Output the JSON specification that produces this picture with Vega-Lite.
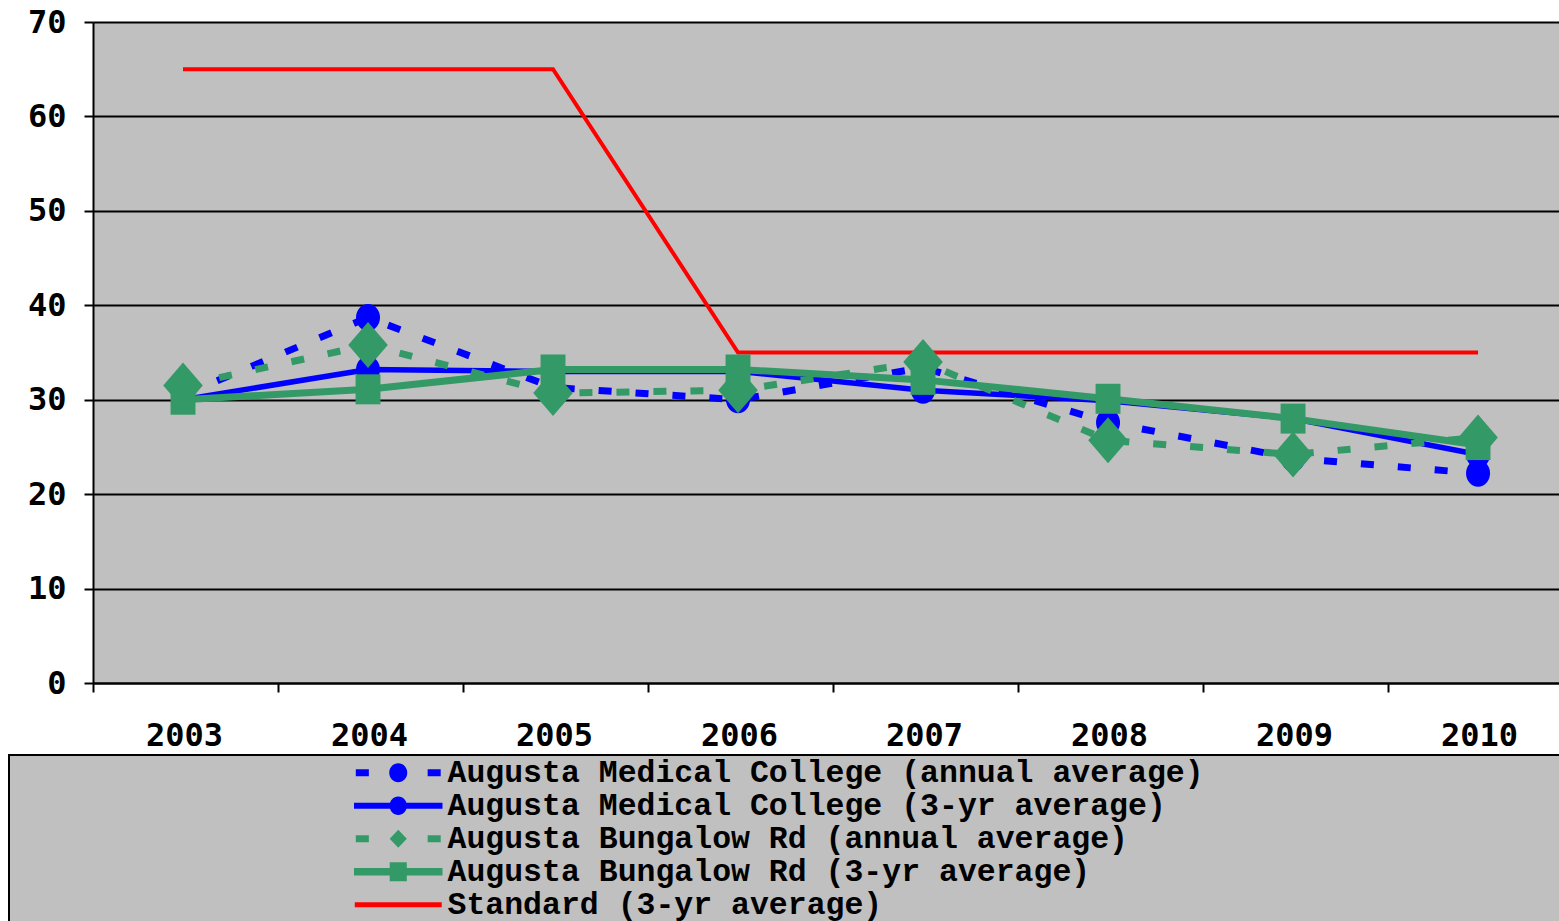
{
  "$schema": "https://vega.github.io/schema/vega-lite/v6.json",
  "background": "white",
  "padding": {"left": 8, "top": 6, "right": 0, "bottom": 0},
  "width": 1467,
  "height": 661,
  "view": {"fill": "#c0c0c0", "stroke": null},
  "datasets": {
    "obs": [
      {"series": "Augusta Medical College (annual average)", "year": 2003, "value": 30.5},
      {"series": "Augusta Medical College (annual average)", "year": 2004, "value": 38.7},
      {"series": "Augusta Medical College (annual average)", "year": 2005, "value": 31.3},
      {"series": "Augusta Medical College (annual average)", "year": 2006, "value": 30.0},
      {"series": "Augusta Medical College (annual average)", "year": 2007, "value": 33.4},
      {"series": "Augusta Medical College (annual average)", "year": 2008, "value": 27.6},
      {"series": "Augusta Medical College (annual average)", "year": 2009, "value": 23.8},
      {"series": "Augusta Medical College (annual average)", "year": 2010, "value": 22.2},
      {"series": "Augusta Medical College (3-yr average)", "year": 2003, "value": 30.0},
      {"series": "Augusta Medical College (3-yr average)", "year": 2004, "value": 33.2},
      {"series": "Augusta Medical College (3-yr average)", "year": 2005, "value": 33.0},
      {"series": "Augusta Medical College (3-yr average)", "year": 2006, "value": 33.0},
      {"series": "Augusta Medical College (3-yr average)", "year": 2007, "value": 31.0},
      {"series": "Augusta Medical College (3-yr average)", "year": 2008, "value": 29.9},
      {"series": "Augusta Medical College (3-yr average)", "year": 2009, "value": 28.0},
      {"series": "Augusta Medical College (3-yr average)", "year": 2010, "value": 24.2},
      {"series": "Augusta Bungalow Rd (annual average)", "year": 2003, "value": 31.5},
      {"series": "Augusta Bungalow Rd (annual average)", "year": 2004, "value": 35.8},
      {"series": "Augusta Bungalow Rd (annual average)", "year": 2005, "value": 30.7},
      {"series": "Augusta Bungalow Rd (annual average)", "year": 2006, "value": 31.0},
      {"series": "Augusta Bungalow Rd (annual average)", "year": 2007, "value": 34.0},
      {"series": "Augusta Bungalow Rd (annual average)", "year": 2008, "value": 25.7},
      {"series": "Augusta Bungalow Rd (annual average)", "year": 2009, "value": 24.2},
      {"series": "Augusta Bungalow Rd (annual average)", "year": 2010, "value": 26.0},
      {"series": "Augusta Bungalow Rd (3-yr average)", "year": 2003, "value": 30.0},
      {"series": "Augusta Bungalow Rd (3-yr average)", "year": 2004, "value": 31.1},
      {"series": "Augusta Bungalow Rd (3-yr average)", "year": 2005, "value": 33.2},
      {"series": "Augusta Bungalow Rd (3-yr average)", "year": 2006, "value": 33.2},
      {"series": "Augusta Bungalow Rd (3-yr average)", "year": 2007, "value": 32.1},
      {"series": "Augusta Bungalow Rd (3-yr average)", "year": 2008, "value": 30.1},
      {"series": "Augusta Bungalow Rd (3-yr average)", "year": 2009, "value": 28.0},
      {"series": "Augusta Bungalow Rd (3-yr average)", "year": 2010, "value": 25.2},
      {"series": "Standard (3-yr average)", "year": 2003, "value": 65},
      {"series": "Standard (3-yr average)", "year": 2004, "value": 65},
      {"series": "Standard (3-yr average)", "year": 2005, "value": 65},
      {"series": "Standard (3-yr average)", "year": 2006, "value": 35},
      {"series": "Standard (3-yr average)", "year": 2007, "value": 35},
      {"series": "Standard (3-yr average)", "year": 2008, "value": 35},
      {"series": "Standard (3-yr average)", "year": 2009, "value": 35},
      {"series": "Standard (3-yr average)", "year": 2010, "value": 35}
    ],
    "keys": [
      {"series": "Augusta Medical College (annual average)"},
      {"series": "Augusta Medical College (3-yr average)"},
      {"series": "Augusta Bungalow Rd (annual average)"},
      {"series": "Augusta Bungalow Rd (3-yr average)"},
      {"series": "Standard (3-yr average)"}
    ]
  },
  "layer": [
    {
      "data": {"name": "obs"},
      "encoding": {
        "x": {
          "field": "year", "type": "quantitative",
          "scale": {"domain": [2002.5135, 2010.443], "nice": false, "zero": false},
          "axis": {
            "values": [2002.5135, 2003.5135, 2004.5135, 2005.5135, 2006.5135, 2007.5135, 2008.5135, 2009.5135],
            "labelExpr": "format(round(datum.value), 'd')",
            "labelOffset": 91,
            "title": null, "grid": false,
            "tickSize": 9, "tickWidth": 2, "tickColor": "black",
            "domainColor": "black", "domainWidth": 2,
            "labelFont": "DejaVu Sans Mono", "labelFontWeight": "bold", "labelFontSize": 32,
            "labelColor": "black", "labelPadding": 28,
            "labelOverlap": false, "labelFlush": false, "labelBound": false
          }
        },
        "y": {
          "field": "value", "type": "quantitative",
          "scale": {"domain": [0, 70], "nice": false, "zero": true},
          "axis": {
            "values": [0, 10, 20, 30, 40, 50, 60, 70],
            "title": null,
            "grid": true, "gridColor": "black", "gridWidth": 2, "gridOpacity": 1,
            "tickSize": 9, "tickWidth": 2, "tickColor": "black",
            "domainColor": "black", "domainWidth": 2,
            "labelFont": "DejaVu Sans Mono", "labelFontWeight": "bold", "labelFontSize": 32,
            "labelColor": "black", "labelPadding": 18, "labelFlush": false, "labelOverlap": false
          }
        }
      },
      "layer": [
        {
          "transform": [{"filter": "datum.series === 'Standard (3-yr average)'"}],
          "mark": {"type": "line", "color": "#ff0000", "strokeWidth": 4}
        },
        {
          "transform": [{"filter": "datum.series === 'Augusta Medical College (annual average)'"}],
          "mark": {"type": "line", "color": "#0000ff", "strokeWidth": 7, "strokeDash": [13, 24], "strokeCap": "butt"}
        },
        {
          "transform": [{"filter": "datum.series === 'Augusta Medical College (annual average)'"}],
          "mark": {"type": "point", "filled": true, "opacity": 1, "color": "#0000ff", "size": 729, "shape": "M-0.89,0A0.89,1 0 1,1 0.89,0A0.89,1 0 1,1 -0.89,0Z"}
        },
        {
          "transform": [{"filter": "datum.series === 'Augusta Medical College (3-yr average)'"}],
          "mark": {"type": "line", "color": "#0000ff", "strokeWidth": 5.5}
        },
        {
          "transform": [{"filter": "datum.series === 'Augusta Medical College (3-yr average)'"}],
          "mark": {"type": "point", "filled": true, "opacity": 1, "color": "#0000ff", "size": 729, "shape": "M-0.89,0A0.89,1 0 1,1 0.89,0A0.89,1 0 1,1 -0.89,0Z"}
        },
        {
          "transform": [{"filter": "datum.series === 'Augusta Bungalow Rd (annual average)'"}],
          "mark": {"type": "line", "color": "#339966", "strokeWidth": 7, "strokeDash": [13, 24], "strokeCap": "butt"}
        },
        {
          "transform": [{"filter": "datum.series === 'Augusta Bungalow Rd (annual average)'"}],
          "mark": {"type": "point", "filled": true, "opacity": 1, "color": "#339966", "size": 2116, "shape": "M0,-1L0.86,0L0,1L-0.86,0Z"}
        },
        {
          "transform": [{"filter": "datum.series === 'Augusta Bungalow Rd (3-yr average)'"}],
          "mark": {"type": "line", "color": "#339966", "strokeWidth": 7}
        },
        {
          "transform": [{"filter": "datum.series === 'Augusta Bungalow Rd (3-yr average)'"}],
          "mark": {"type": "point", "filled": true, "opacity": 1, "color": "#339966", "size": 900, "shape": "M-0.83,-1L0.83,-1L0.83,1L-0.83,1Z"}
        }
      ]
    },
    {
      "data": {"name": "keys"},
      "mark": {"type": "point", "filled": true, "opacity": 0},
      "encoding": {
        "shape": {
          "field": "series", "type": "nominal",
          "scale": {
            "domain": ["Augusta Medical College (annual average)", "Augusta Medical College (3-yr average)", "Augusta Bungalow Rd (annual average)", "Augusta Bungalow Rd (3-yr average)", "Standard (3-yr average)"],
            "range": [
              "M-2.83,-0.23L-1.96,-0.23L-1.96,0.23L-2.83,0.23Z M1.96,-0.23L2.83,-0.23L2.83,0.23L1.96,0.23Z M-0.6,0A0.6,0.63 0 1,1 0.6,0A0.6,0.63 0 1,1 -0.6,0Z",
              "M-2.95,-0.2L2.95,-0.2L2.95,0.2L-2.95,0.2Z M-0.58,0A0.58,0.62 0 1,1 0.58,0A0.58,0.62 0 1,1 -0.58,0Z",
              "M-2.83,-0.23L-1.96,-0.23L-1.96,0.23L-2.83,0.23Z M1.96,-0.23L2.83,-0.23L2.83,0.23L1.96,0.23Z M0,-0.6L0.57,0L0,0.6L-0.57,0Z",
              "M-2.95,-0.25L2.95,-0.25L2.95,0.25L-2.95,0.25Z M-0.57,-0.63L0.57,-0.63L0.57,0.63L-0.57,0.63Z",
              "M-2.9,-0.17L2.9,-0.17L2.9,0.17L-2.9,0.17Z"
            ]
          },
          "legend": {"title": "MMMMMMMMMMMMMMMMMM", "orient": "none", "legendX": -84, "legendY": 733}
        },
        "color": {
          "field": "series", "type": "nominal",
          "scale": {
            "domain": ["Augusta Medical College (annual average)", "Augusta Medical College (3-yr average)", "Augusta Bungalow Rd (annual average)", "Augusta Bungalow Rd (3-yr average)", "Standard (3-yr average)"],
            "range": ["#0000ff", "#0000ff", "#339966", "#339966", "#ff0000"]
          },
          "legend": {"title": "MMMMMMMMMMMMMMMMMM", "orient": "none", "legendX": -84, "legendY": 733}
        }
      }
    }
  ],
  "config": {
    "legend": {
      "padding": 2,
      "fillColor": "#c0c0c0",
      "strokeColor": "black",
      "strokeWidth": 2,
      "titleOrient": "right",
      "titleFont": "Liberation Mono",
      "titleFontSize": 33.5,
      "titleFontWeight": "normal",
      "titleColor": "#c0c0c0",
      "titlePadding": 5,
      "titleLimit": 2000,
      "symbolSize": 900,
      "symbolOffset": 371.5,
      "symbolStrokeWidth": 0,
      "symbolOpacity": 1,
      "labelFont": "Liberation Mono",
      "labelFontWeight": "bold",
      "labelFontSize": 31.5,
      "labelColor": "black",
      "labelOffset": 33.5,
      "labelLimit": 3000,
      "rowPadding": 0,
      "direction": "vertical"
    }
  }
}
